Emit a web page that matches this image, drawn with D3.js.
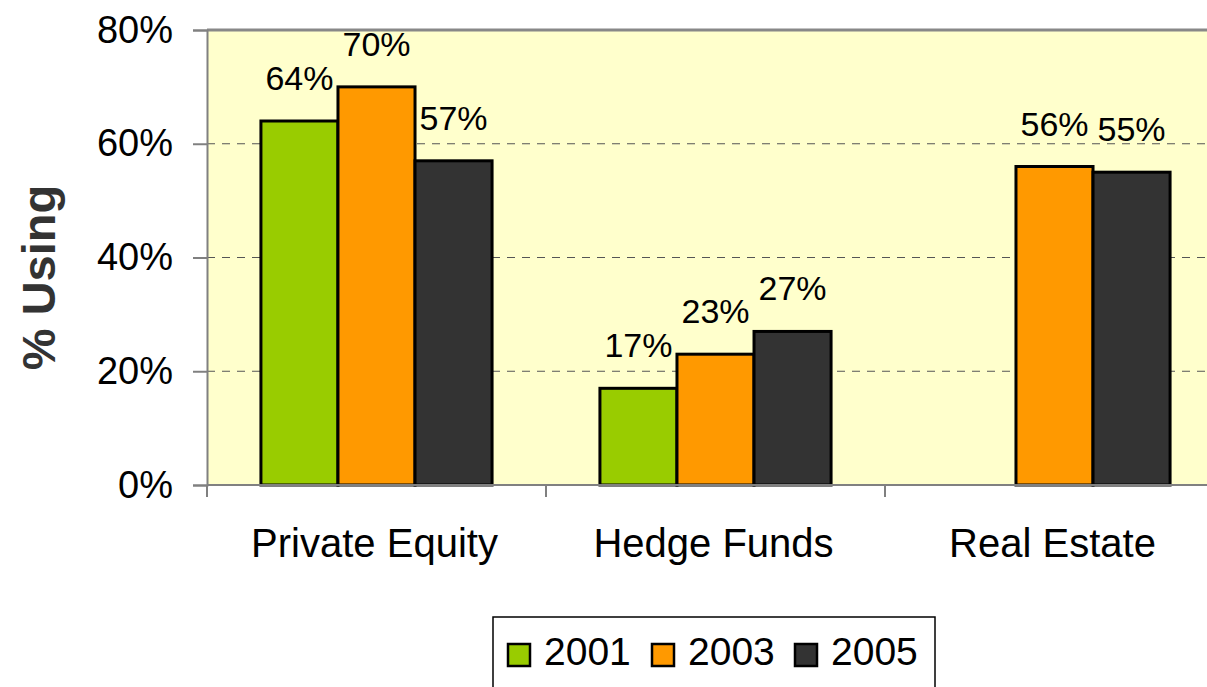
<!DOCTYPE html>
<html>
<head>
<meta charset="utf-8">
<script src="https://cdn.jsdelivr.net/npm/d3@7"></script>
<style>
  body { margin: 0; background: #fff; }
  text { font-family: "Liberation Sans", Arial, sans-serif; }
</style>
</head>
<body>
<div id="chart"></div>
<script>
let categories = ["Private Equity", "Hedge Funds", "Real Estate"]
let years = ["2001", "2003", "2005"]
let values2001 = [0.64, 0.17, null]
let values2003 = [0.70, 0.23, 0.56]
let values2005 = [0.57, 0.27, 0.55]
let yTicks = [0, 0.2, 0.4, 0.6, 0.8]

let colors = {
    green: "#99cc00",
    orange: "#ff9900",
    dark: "#333333",
    plotBg: "#ffffcc"
}
let barColors = [colors.green, colors.orange, colors.dark]

let width = 1207, height = 687
let plot = { left: 207, top: 30, bottom: 485, catWidth: 339 }

let series = [values2001, values2003, values2005]

const svg = d3.select('#chart')
    .append('svg')
    .attr('width', width)
    .attr('height', height)

const xScale = d3.scaleBand()
    .domain(categories)
    .range([plot.left, plot.left + plot.catWidth * categories.length])
    .paddingInner(0)
    .paddingOuter(0)

const xInner = d3.scaleBand()
    .domain(years)
    .range([0, xScale.bandwidth()])
    .paddingOuter(0.7)
    .paddingInner(0)

const yScale = d3.scaleLinear()
    .domain([0, 0.8])
    .range([plot.bottom, plot.top])

// plot background
svg.append('rect')
    .attr('x', plot.left)
    .attr('y', plot.top)
    .attr('width', width - plot.left)
    .attr('height', plot.bottom - plot.top)
    .attr('fill', colors.plotBg)

// gridlines
svg.append('g')
    .selectAll('line')
    .data(yTicks.filter(d => d > 0 && d < 0.8))
    .join('line')
    .attr('x1', plot.left)
    .attr('x2', width)
    .attr('y1', d => yScale(d))
    .attr('y2', d => yScale(d))
    .attr('stroke', '#555')
    .attr('stroke-width', 1)
    .attr('stroke-dasharray', '8,7')

// top border
svg.append('line')
    .attr('x1', plot.left)
    .attr('x2', width)
    .attr('y1', plot.top)
    .attr('y2', plot.top)
    .attr('stroke', '#888')
    .attr('stroke-width', 3)

// bars
let rows = []
categories.forEach((c, i) => {
    years.forEach((y, j) => {
        rows.push({ cat: c, year: y, value: series[j][i], color: barColors[j] })
    })
})

const bars = svg.append('g').attr('class', 'bars')
bars.selectAll('rect')
    .data(rows.filter(d => d.value != null))
    .join('rect')
    .attr('x', d => xScale(d.cat) + xInner(d.year))
    .attr('y', d => yScale(d.value))
    .attr('width', xInner.bandwidth())
    .attr('height', d => plot.bottom - yScale(d.value))
    .attr('fill', d => d.color)
    .attr('stroke', '#000')
    .attr('stroke-width', 3)

// value labels
svg.append('g')
    .selectAll('text')
    .data(rows.filter(d => d.value != null))
    .join('text')
    .attr('x', d => xScale(d.cat) + xInner(d.year) + xInner.bandwidth() / 2)
    .attr('y', d => yScale(d.value) - 31)
    .attr('text-anchor', 'middle')
    .attr('font-size', 34)
    .attr('fill', '#000')
    .text(d => Math.round(d.value * 100) + '%')

// y axis
const yAxis = d3.axisLeft(yScale)
    .tickValues(yTicks)
    .tickFormat(d3.format('.0%'))
    .tickSize(14)
    .tickPadding(20)

const yAxisG = svg.append('g')
    .attr('transform', `translate(${plot.left}, 0)`)
    .call(yAxis)
yAxisG.select('.domain').attr('stroke', '#808080').attr('stroke-width', 2)
yAxisG.selectAll('.tick line').attr('stroke', '#808080').attr('stroke-width', 2)
yAxisG.selectAll('.tick text')
    .attr('font-size', 38)
    .attr('fill', '#000')
    .attr('font-family', '"Liberation Sans", Arial, sans-serif')

// x axis
const xAxisG = svg.append('g')
    .attr('transform', `translate(0, ${plot.bottom})`)
xAxisG.append('line')
    .attr('x1', plot.left)
    .attr('x2', width)
    .attr('stroke', '#808080')
    .attr('stroke-width', 2)
xAxisG.selectAll('.cat-tick')
    .data(categories)
    .join('line')
    .attr('class', 'cat-tick')
    .attr('x1', d => xScale(d))
    .attr('x2', d => xScale(d))
    .attr('y1', 0)
    .attr('y2', 12)
    .attr('stroke', '#808080')
    .attr('stroke-width', 2)
xAxisG.selectAll('.cat-label')
    .data(categories)
    .join('text')
    .attr('class', 'cat-label')
    .attr('x', d => xScale(d) + xScale.bandwidth() / 2 - 2)
    .attr('y', 72)
    .attr('text-anchor', 'middle')
    .attr('font-size', 40)
    .attr('fill', '#000')
    .text(d => d)

// y axis title
svg.append('text')
    .attr('transform', `translate(55, ${(plot.top + plot.bottom) / 2 + 20}) rotate(-90)`)
    .attr('text-anchor', 'middle')
    .attr('font-size', 47)
    .attr('font-weight', 'bold')
    .attr('fill', '#333')
    .text('% Using')

// legend
const legend = svg.append('g').attr('class', 'legend')
legend.append('rect')
    .attr('x', 493)
    .attr('y', 617)
    .attr('width', 442)
    .attr('height', 80)
    .attr('fill', '#fff')
    .attr('stroke', '#000')
    .attr('stroke-width', 1.5)

let legendX = [508, 652, 795]
const items = legend.selectAll('.item')
    .data(years)
    .join('g')
    .attr('class', 'item')
    .attr('transform', (d, i) => `translate(${legendX[i]}, 644)`)
items.append('rect')
    .attr('x', 0)
    .attr('y', 0)
    .attr('width', 22)
    .attr('height', 22)
    .attr('fill', (d, i) => barColors[i])
    .attr('stroke', '#000')
    .attr('stroke-width', 2.5)
items.append('text')
    .attr('x', 36)
    .attr('y', 21)
    .attr('font-size', 39)
    .attr('fill', '#000')
    .text(d => d)
</script>
</body>
</html>
